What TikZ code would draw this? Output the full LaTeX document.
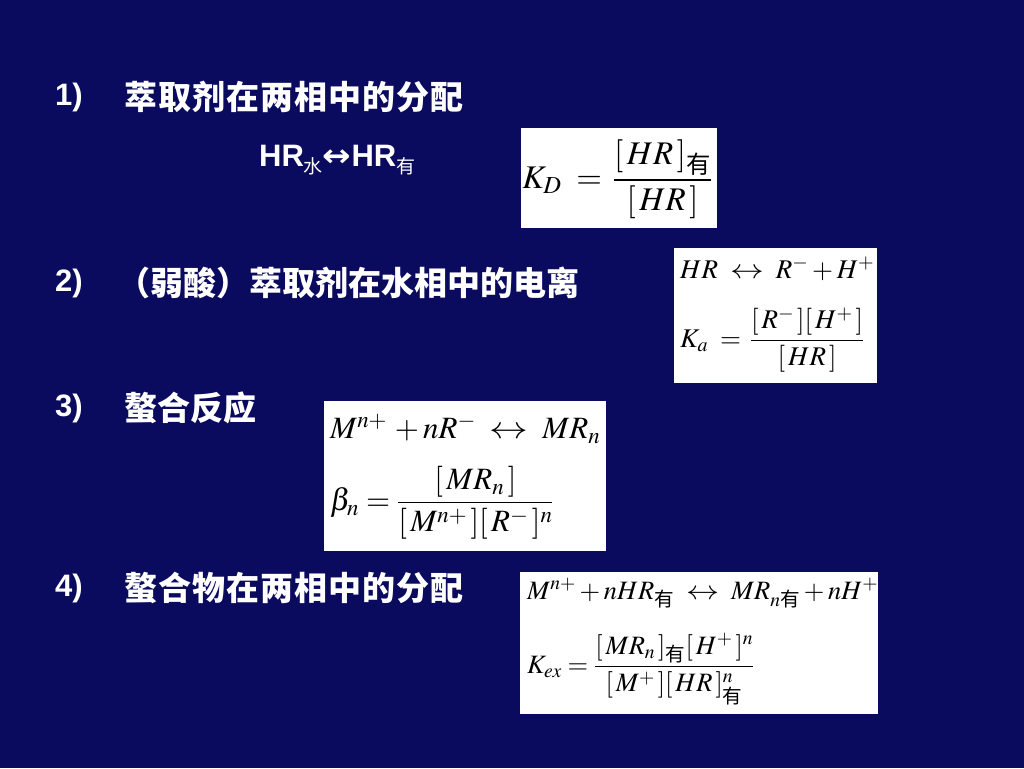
\documentclass[tikz,border=0pt]{standalone}
\usepackage{amsmath}
\usepackage{mathptmx}
\usepackage[no-math]{fontspec}
\setmainfont{Liberation Serif}
\setsansfont{Liberation Sans}
\newfontfamily\cjk{Noto Sans CJK SC}
\newfontfamily\arrowfont{DejaVu Sans}
\definecolor{slidebg}{RGB}{10,10,95}
\newcommand*{\you}{\text{\cjk 有}}
\newcommand*{\lra}{\mathrel{\;\scalebox{1.25}[1]{$\leftrightarrow$}\;}}
\newcommand*{\smallcjk}[1]{\raisebox{-7pt}{\cjk\mdseries\fontsize{19}{19}\selectfont #1}}
\tikzset{
  itemno/.style={anchor=west,inner sep=0pt,text=white,
    font=\sffamily\bfseries\fontsize{31}{36}\selectfont},
  heading/.style={anchor=west,inner sep=0pt,text=white,
    font=\cjk\bfseries\fontsize{33}{40}\selectfont},
  wideheading/.style={heading,
    font=\cjk\bfseries\fontsize{33}{40}\selectfont\addfontfeature{LetterSpace=3}},
  eqbox/.style={anchor=north west,fill=white,inner sep=0pt},
  eqline/.style={anchor=west,inner sep=0pt,text=black}
}

\begin{document}
\begin{tikzpicture}[x=1pt,y=-1pt]
\fill[slidebg] (0,0) rectangle (1024,768);
\useasboundingbox (0,0) rectangle (1024,768);

% headings
\node[itemno] (n1) at (55,97) {1)};
\node[wideheading] (h1) at (124,97) {萃取剂在两相中的分配};
\node[itemno] (n2) at (55,283) {2)};
\node[heading] (h2) at (117,283) {（弱酸）萃取剂在水相中的电离};
\node[itemno] (n3) at (55,408) {3)};
\node[heading] (h3) at (124,408) {螯合反应};
\node[itemno] (n4) at (55,588) {4)};
\node[wideheading] (h4) at (124,588) {螯合物在两相中的分配};

\node[itemno] (hr) at (259,160)
  {HR\smallcjk{水}\scalebox{1.1}[1]{\arrowfont ↔}HR\smallcjk{有}};

% equation boxes
\node[eqbox,minimum width=196pt,minimum height=100pt] (kd) at (521,128) {};
\node[eqline,anchor=center,font=\fontsize{33}{38}\selectfont] (kd1)
  at ([shift={(-2,1)}]kd.center)
  {$K_D \;=\, \dfrac{[\,HR\,]_{\you}}{[\,HR\,]}$};

\node[eqbox,minimum width=203pt,minimum height=135pt] (ka) at (674,248) {};
\node[eqline,font=\fontsize{27}{31}\selectfont] (ka1)
  at ([shift={(6,21)}]ka.north west) {$HR \lra R^- + H^+$};
\node[eqline,font=\fontsize{27}{31}\selectfont] (ka2)
  at ([shift={(6,92)}]ka.north west)
  {$K_a \;=\, \dfrac{[\,R^-\,][\,H^+\,]}{[\,HR\,]}$};

\node[eqbox,minimum width=282pt,minimum height=150pt] (beta) at (324,401) {};
\node[eqline,font=\fontsize{31}{36}\selectfont] (beta1)
  at ([shift={(6,28)}]beta.north west) {$M^{n+} \,+ nR^- \lra MR_n$};
\node[eqline,font=\fontsize{31}{36}\selectfont] (beta2)
  at ([shift={(6,102)}]beta.north west)
  {$\beta_n = \dfrac{[\,MR_n\,]}{[\,M^{n+}\,][\,R^-\,]^n}$};

\node[eqbox,minimum width=358pt,minimum height=142pt] (kex) at (520,572) {};
\node[eqline,font=\fontsize{26.5}{31}\selectfont] (kex1)
  at ([shift={(7,21)}]kex.north west)
  {$M^{n+} + nHR_{\you} \lra MR_{n\you} + nH^+$};
\node[eqline,font=\fontsize{26.5}{31}\selectfont] (kex2)
  at ([shift={(7,97)}]kex.north west)
  {$K_{ex} = \dfrac{[\,MR_n\,]_{\you}[\,H^+\,]^n}{[\,M^+\,][\,HR\,]^n_{\you}}$};
\end{tikzpicture}
\end{document}
